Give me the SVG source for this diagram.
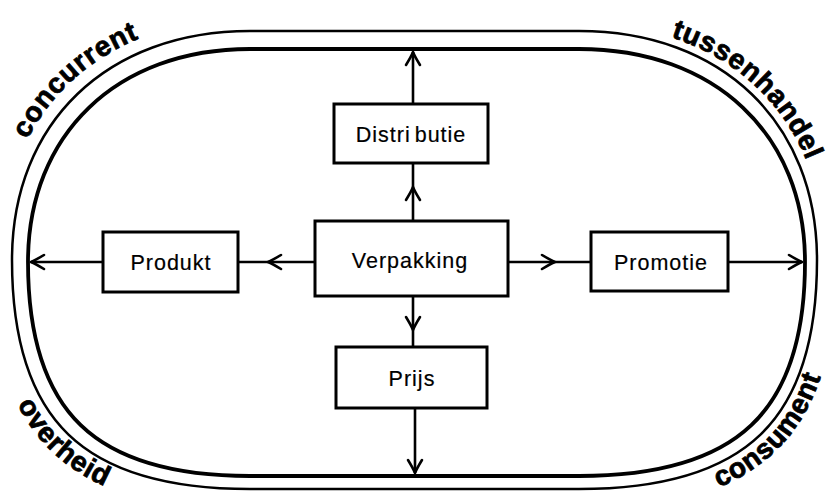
<svg xmlns="http://www.w3.org/2000/svg" width="830" height="492" viewBox="0 0 830 492">
  <style>
    .track { fill: none; stroke: #000; }
    .outer { stroke-width: 2.5; }
    .inner { stroke-width: 3.8; }
    .box rect { fill: #fff; stroke: #000; stroke-width: 3; }
    .box text { font-family: "Liberation Sans", Arial, Helvetica, sans-serif; font-size: 21.5px; letter-spacing: 1px; text-anchor: middle; fill: #000; stroke: #000; stroke-width: 0.2; }
    .conn path { fill: none; stroke: #000; stroke-width: 2.6; }
    .mid { marker-mid: url(#chev); }
    .end { marker-end: url(#chev); }
    .ring { font-family: "Liberation Sans", Arial, Helvetica, sans-serif; font-size: 28px; font-weight: bold; letter-spacing: 0.8px; fill: #000; stroke: #000; stroke-width: 0.8; }
  </style>
  <defs>
    <marker id="chev" viewBox="-16 -10 20 20" refX="0" refY="0" markerWidth="20" markerHeight="20" markerUnits="userSpaceOnUse" orient="auto">
      <path d="M-13,-7 Q-4,-1.5 0,0 Q-4,1.5 -13,7" fill="none" stroke="#000" stroke-width="2.6" stroke-linejoin="round" stroke-linecap="round"/>
    </marker>
    <!-- baselines for the ring labels -->
    <path id="arcUL" d="M0,260 C0,114 99,18 250,18"/>
    <path id="arcUR" d="M579,23 C724,23 825,115 825,260"/>
    <path id="arcLL" d="M-10,260 C-10,435.7 68,511 250,511"/>
    <path id="arcLR" d="M579,510 C760,510 837,435 837,260"/>
  </defs>

  <rect width="830" height="492" fill="#fff"/>

  <!-- double track around the market -->
  <g id="track">
    <path class="track outer" d="M12,260 C12,122.6 107.2,31 250,31 L579,31 C721.8,31 817,122.6 817,260 C817,420.3 745.6,489 579,489 L250,489 C83.4,489 12,420.3 12,260 Z"/>
    <path class="track inner" d="M28,262 C28,134.2 116.8,49 250,49 L579,49 C714.6,49 805,134.2 805,262 C805,411.8 737.2,476 579,476 L250,476 C94.6,476 28,411.8 28,262 Z"/>
  </g>

  <!-- ring labels -->
  <g id="labels">
    <text class="ring"><textPath href="#arcUL" startOffset="51.5%" text-anchor="middle">concurrent</textPath></text>
    <text class="ring"><textPath href="#arcUR" startOffset="49%" text-anchor="middle">tussenhandel</textPath></text>
    <text class="ring"><textPath href="#arcLL" startOffset="50%" text-anchor="middle">overheid</textPath></text>
    <text class="ring"><textPath href="#arcLR" startOffset="53%" text-anchor="middle">consument</textPath></text>
  </g>

  <!-- connectors -->
  <g id="connectors" class="conn">
    <path class="mid" d="M413,221 L413,187 L413,163"/>
    <path class="mid" d="M315,262 L268,262 L238,262"/>
    <path class="mid" d="M508,262 L555,262 L591,262"/>
    <path class="mid" d="M413,296 L413,330 L413,347"/>
    <path class="end" d="M413,104 L413,52"/>
    <path class="end" d="M103,262 L31,262"/>
    <path class="end" d="M728,262 L802,262"/>
    <path class="end" d="M415,408 L415,473"/>
  </g>

  <!-- nodes -->
  <g id="distributie" class="box">
    <rect x="334" y="104" width="154" height="59"/>
    <text x="411" y="142">Distri<tspan dx="4">butie</tspan></text>
  </g>
  <g id="verpakking" class="box">
    <rect x="315" y="221" width="193" height="75"/>
    <text x="410" y="268">Verpakking</text>
  </g>
  <g id="produkt" class="box">
    <rect x="103" y="232" width="135" height="60"/>
    <text x="171" y="270">Produkt</text>
  </g>
  <g id="promotie" class="box">
    <rect x="591" y="232" width="137" height="59"/>
    <text x="661" y="270">Promotie</text>
  </g>
  <g id="prijs" class="box">
    <rect x="336" y="347" width="151" height="61"/>
    <text x="412" y="386">Prijs</text>
  </g>
</svg>
